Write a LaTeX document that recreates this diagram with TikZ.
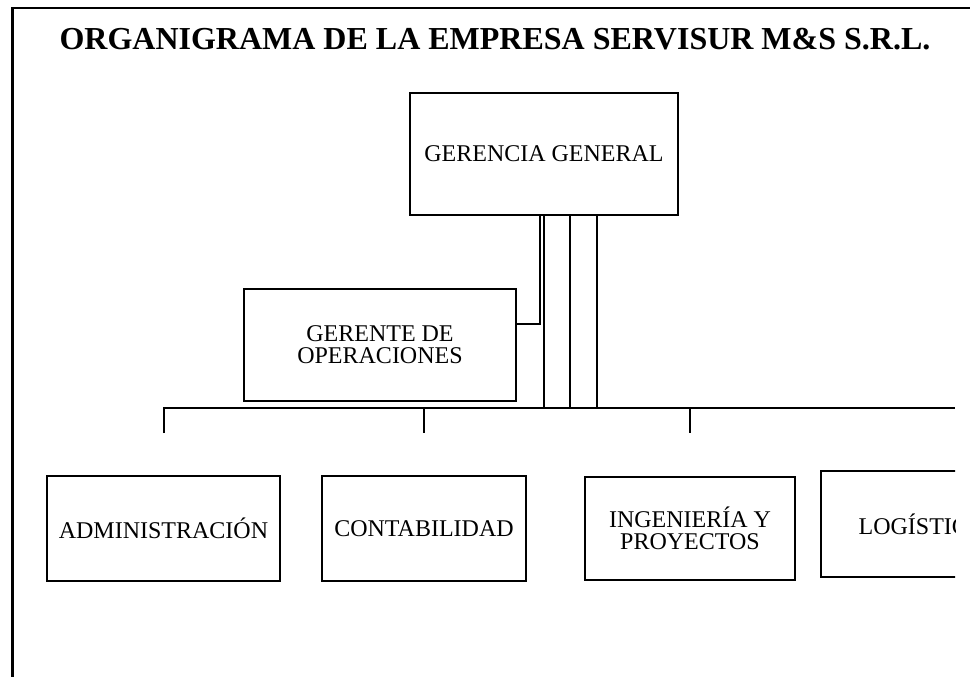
\documentclass[tikz,border=0pt]{standalone}
\usepackage{fontspec}
\setmainfont{Liberation Serif}
\begin{document}
\begin{tikzpicture}[x=1pt,y=-1pt,
  box/.style={draw, line width=1.6pt, inner sep=0pt, align=center, font=\fontsize{24}{21.7}\selectfont},
  linkline/.style={draw, line width=2pt},
  frameline/.style={draw, line width=2.2pt},
  titlefont/.style={font=\bfseries\fontsize{32}{36}\selectfont}]
\useasboundingbox (0,0) rectangle (970,677);
\node[titlefont, anchor=base, inner sep=0pt] (title) at (495,50) {ORGANIGRAMA DE LA EMPRESA SERVISUR M\&S S.R.L.};
\coordinate (ftl) at (12.5,8);
\coordinate (ftr) at (970,8);
\coordinate (fbl) at (12.5,677);
\path[frameline] (ftr) -- (ftl) -- (fbl);
\begin{scope}
\clip (0,0) rectangle (955,677);
\node[box, minimum width=268pt, minimum height=122pt] (gg) at (544,154) {GERENCIA GENERAL};
\node[box, minimum width=272pt, minimum height=112pt] (go) at (380,345) {GERENTE DE\\OPERACIONES};
\node[box, minimum width=233pt, minimum height=105pt] (adm) at (163.5,528.5) {ADMINISTRACIÓN};
\node[box, minimum width=204pt, minimum height=105pt] (cont) at (424,528.5) {CONTABILIDAD};
\node[box, minimum width=210pt, minimum height=103pt] (ing) at (690,528.5) {INGENIERÍA Y\\PROYECTOS};
\node[box, minimum width=202pt, minimum height=106pt] (log) at (922,524) {LOGÍSTICA};
\coordinate (busE) at (955,407.5);
\coordinate (dropY) at (0,433);
\coordinate (v1) at (543.5,407.5);
\coordinate (v2) at (569.5,407.5);
\coordinate (v3) at (596.5,407.5);
\coordinate (k) at (539.5,323.5);
\path[linkline] (adm.north |- dropY) -- (adm.north |- busE) -- (busE);
\path[linkline] (cont.north |- busE) -- (cont.north |- dropY);
\path[linkline] (ing.north |- busE) -- (ing.north |- dropY);
\path[linkline] (gg.south -| v1) -- (v1);
\path[linkline] (gg.south -| v2) -- (v2);
\path[linkline] (gg.south -| v3) -- (v3);
\path[linkline] (gg.south -| k) -- (k) -- (go.east |- k);
\end{scope}
\end{tikzpicture}
\end{document}
